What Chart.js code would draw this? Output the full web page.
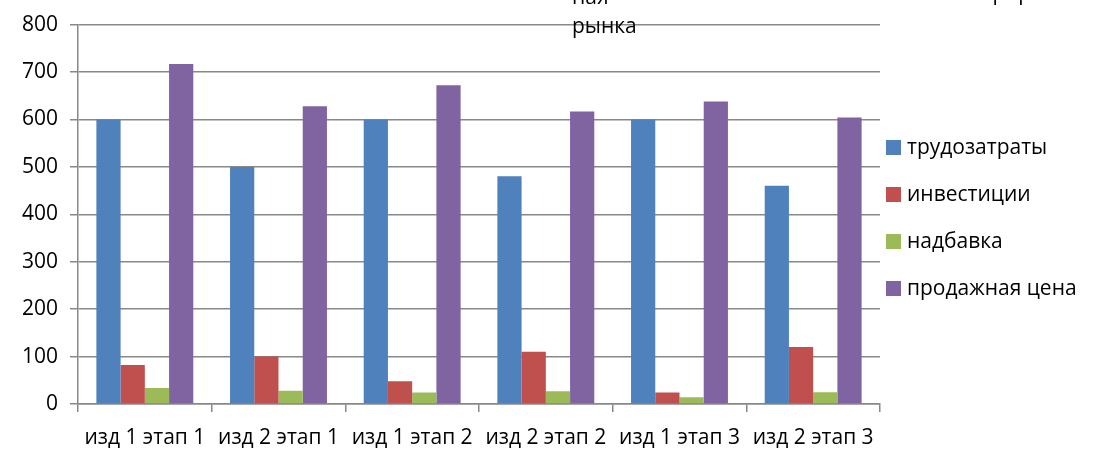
<!DOCTYPE html>
<html>
<head>
<meta charset="utf-8">
<script src="https://cdn.jsdelivr.net/npm/chart.js@4"></script>
<style>
  body { margin: 0; background: #fff; }
  #wrap { width: 1097px; height: 449px; }
</style>
</head>
<body>
<div id="wrap"><canvas id="grafico"></canvas></div>
<script>
// категории и значения
const categorias = ['изд 1 этап 1', 'изд 2 этап 1', 'изд 1 этап 2', 'изд 2 этап 2', 'изд 1 этап 3', 'изд 2 этап 3'];
const trudozatraty = [600, 500, 600, 480, 600, 460];
const investicii = [82, 100, 48, 110, 24, 120];
const nadbavka = [34, 28, 24, 27, 14, 25];
const prodazhnayaCena = [717, 628, 672, 617, 638, 604];

const fonte = "'Open Sans', 'Liberation Sans', sans-serif";

// обрезанный заголовок сверху
const textoTopo = {
    id: 'textoTopo',
    afterDraw(chart) {
        const ctx = chart.ctx;
        ctx.save();
        ctx.fillStyle = '#000';
        ctx.font = '21px ' + fonte;
        ctx.textBaseline = 'alphabetic';
        ctx.fillText('ная', 572, 4);
        ctx.fillText('рынка', 572, 33);
        ctx.fillText('на рпр', 962, 0);
        ctx.restore();
    }
};

// легенда справа, как в Excel
const legendaLateral = {
    id: 'legendaLateral',
    afterDraw(chart) {
        const ctx = chart.ctx;
        ctx.save();
        ctx.font = '21px ' + fonte;
        ctx.textBaseline = 'middle';
        chart.data.datasets.forEach((ds, i) => {
            const y = 147 + i * 47;
            ctx.fillStyle = ds.backgroundColor;
            ctx.fillRect(886, y - 7, 15, 15);
            ctx.fillStyle = '#000';
            ctx.fillText(ds.label, 907, y + 1);
        });
        ctx.restore();
    }
};

new Chart(document.getElementById('grafico'), {
    type: 'bar',
    data: {
        labels: categorias,
        datasets: [
            { label: 'трудозатраты', data: trudozatraty, backgroundColor: '#4F81BD' },
            { label: 'инвестиции', data: investicii, backgroundColor: '#C0504D' },
            { label: 'надбавка', data: nadbavka, backgroundColor: '#9BBB59' },
            { label: 'продажная цена', data: prodazhnayaCena, backgroundColor: '#8064A2' }
        ]
    },
    options: {
        responsive: true,
        maintainAspectRatio: false,
        animation: false,
        datasets: { bar: { categoryPercentage: 0.725, barPercentage: 1 } },
        layout: { padding: { top: 14, left: 0, right: 217, bottom: 0 } },
        plugins: {
            legend: { display: false },
            tooltip: { enabled: false }
        },
        scales: {
            x: {
                afterFit: (s) => { s.height = 45; },
                grid: { offset: true, drawOnChartArea: false, drawTicks: true, tickLength: 8, color: '#888', lineWidth: 1.5 },
                border: { color: '#888', width: 1.5 },
                ticks: { autoSkip: false, maxRotation: 0, color: '#000', font: { family: fonte, size: 21 }, padding: 13 }
            },
            y: {
                min: 0, max: 800,
                afterFit: (s) => { s.width = 78; },
                grid: { color: '#888', lineWidth: 1.5, tickLength: 8 },
                border: { color: '#888', width: 1.5 },
                ticks: { stepSize: 100, color: '#000', font: { family: fonte, size: 21 }, padding: 12 }
            }
        }
    },
    plugins: [textoTopo, legendaLateral]
});
</script>
</body>
</html>
